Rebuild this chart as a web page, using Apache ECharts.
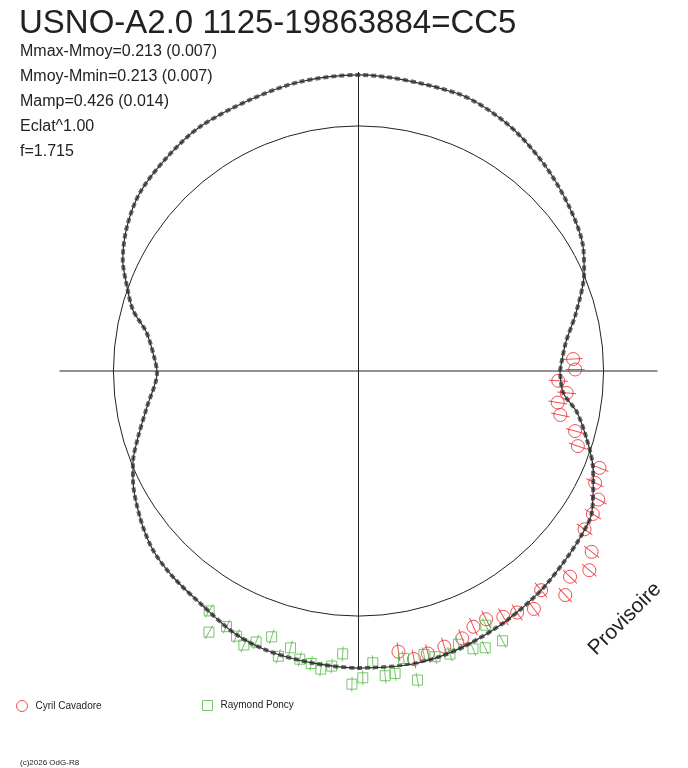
<!DOCTYPE html>
<html>
<head>
<meta charset="utf-8">
<script src="https://cdn.jsdelivr.net/npm/echarts@6/dist/echarts.min.js"></script>
<style>
  html, body { margin: 0; padding: 0; background: #fff; }
  #main { width: 688px; height: 768px; }
</style>
</head>
<body>
<div id="main"></div>
<script>
// titre et resultats
const titleText = 'USNO-A2.0 1125-19863884=CC5'
const statLines = ['Mmax-Mmoy=0.213 (0.007)', 'Mmoy-Mmin=0.213 (0.007)', 'Mamp=0.426 (0.014)', 'Eclat^1.00', 'f=1.715']

// courbe ajustee : angle (degres) et rayon (1 = cercle moyen)
const curveAngle = [0, 7.7, 14.9, 23.5, 28.9, 37.9, 48.4, 59.3, 70.7, 90, 101.4, 111.8, 123, 131.8, 140.8, 148.1, 154.8, 160, 164.9, 169.8, 176.9, 180.5, 189.7, 196.7, 202.2, 205.8, 213.8, 221, 228, 235.7, 244.7, 252, 261, 270, 279.4, 285.9, 292.8, 300.8, 309.5, 316.8, 323.2, 328.7, 335.1, 337.7, 343.2, 349.4, 353.9, 360]
const curveRadius = [0.822, 0.853, 0.918, 1.004, 1.047, 1.090, 1.135, 1.178, 1.202, 1.208, 1.204, 1.192, 1.188, 1.171, 1.151, 1.113, 1.063, 1.005, 0.953, 0.878, 0.832, 0.822, 0.876, 0.939, 0.994, 1.022, 1.073, 1.112, 1.131, 1.147, 1.184, 1.200, 1.206, 1.212, 1.216, 1.212, 1.200, 1.184, 1.165, 1.145, 1.131, 1.114, 1.056, 1.034, 0.974, 0.906, 0.840, 0.822]

// mesures Cyril Cavadore
const cavadoreAngle = [3.2, 0.4, 357.2, 354.0, 351.0, 347.7, 344.5, 341.1, 338.1, 334.7, 331.8, 328.6, 325.0, 322.2, 319.2, 315.8, 312.7, 309.8, 306.4, 303.3, 300.5, 297.2, 294.2, 291.2, 287.3, 283.8, 280.9, 278.1]
const cavadoreRadius = [0.877, 0.884, 0.816, 0.854, 0.823, 0.843, 0.917, 0.946, 1.060, 1.068, 1.110, 1.120, 1.126, 1.204, 1.244, 1.204, 1.244, 1.164, 1.206, 1.179, 1.164, 1.139, 1.144, 1.170, 1.178, 1.187, 1.197, 1.157]

// mesures Raymond Poncy
const poncyAngle = [238.1, 240.2, 242.7, 245.3, 247.3, 249.3, 251.9, 254.3, 256.2, 258.5, 260.8, 262.8, 264.8, 266.8, 268.8, 270.8, 272.8, 275.0, 276.9, 278.9, 280.8, 283.0, 285.0, 287.9, 290.1, 292.4, 294.6, 296.6, 298.1]
const poncyRadius = [1.153, 1.228, 1.174, 1.191, 1.212, 1.182, 1.141, 1.209, 1.163, 1.200, 1.209, 1.226, 1.209, 1.156, 1.278, 1.252, 1.192, 1.248, 1.243, 1.187, 1.284, 1.187, 1.207, 1.214, 1.187, 1.226, 1.242, 1.160, 1.248]

const redColor = '#e8262b'
const greenColor = '#56b947'
const inkColor = '#222'
const fontName = 'Liberation Sans'

function pairs(radius, angle) {
    return radius.map((r, i) => [r, angle[i]])
}
// petit trait radial (barre d'erreur) tourne selon l'angle
function errBars(radius, angle) {
    return radius.map((r, i) => ({ value: [r, angle[i]], symbolRotate: angle[i] }))
}

const curveData = pairs(curveRadius, curveAngle)

const myChart = echarts.init(document.getElementById('main'))

const option = {
    animation: false,
    backgroundColor: '#fff',
    title: [{
        text: titleText,
        left: 19,
        top: 7,
        padding: 0,
        textStyle: { fontSize: 33, fontWeight: 'normal', color: inkColor, fontFamily: fontName }
    }, {
        text: statLines.join('\n'),
        left: 20,
        top: 39,
        padding: 0,
        textStyle: { fontSize: 16, fontWeight: 'normal', color: inkColor, fontFamily: fontName, lineHeight: 25 }
    }],
    legend: [{
        left: 16,
        top: 700,
        padding: 0,
        itemWidth: 11,
        itemHeight: 11,
        itemGap: 0,
        selectedMode: false,
        textStyle: { fontSize: 10, color: inkColor, fontFamily: fontName, padding: [0, 0, 0, 3] },
        data: [{ name: 'Cyril Cavadore', icon: 'circle', itemStyle: { color: 'rgba(0,0,0,0)', borderColor: redColor, borderWidth: 1 } }]
    }, {
        left: 202,
        top: 700,
        padding: 0,
        itemWidth: 10,
        itemHeight: 10,
        selectedMode: false,
        textStyle: { fontSize: 10, color: inkColor, fontFamily: fontName, padding: [0, 0, 0, 3] },
        data: [{ name: 'Raymond Poncy', icon: 'rect', itemStyle: { color: 'rgba(0,0,0,0)', borderColor: greenColor, borderWidth: 1 } }]
    }],
    polar: {
        center: [358.5, 371],
        radius: 299
    },
    angleAxis: {
        type: 'value',
        min: 0,
        max: 360,
        interval: 90,
        startAngle: 0,
        clockwise: false,
        axisLine: { show: false },
        axisTick: { show: false },
        axisLabel: { show: false },
        splitLine: { show: true, lineStyle: { color: inkColor, width: 1 } }
    },
    radiusAxis: {
        type: 'value',
        min: 0,
        max: 1.22,
        interval: 1,
        axisLine: { show: false },
        axisTick: { show: false },
        axisLabel: { show: false },
        // seul le cercle 1 est trace
        splitLine: { show: true, lineStyle: { color: ['rgba(0,0,0,0)', inkColor, 'rgba(0,0,0,0)'], width: 1 } }
    },
    graphic: [{
        type: 'text',
        x: 625,
        y: 619,
        rotation: Math.PI / 4,
        style: { text: 'Provisoire', font: '21px "Liberation Sans"', fill: inkColor, textAlign: 'center', textVerticalAlign: 'middle' }
    }, {
        type: 'text',
        x: 20,
        y: 763,
        style: { text: '(c)2026 OdG-R8', font: '8px "Liberation Sans"', fill: inkColor, textAlign: 'left', textVerticalAlign: 'middle' }
    }],
    series: [{
        type: 'line',
        coordinateSystem: 'polar',
        data: curveData,
        smooth: 0.3,
        symbol: 'none',
        silent: true,
        lineStyle: { color: '#2b2b2b', width: 4, type: [5, 3], opacity: 0.7 }
    }, {
        type: 'line',
        coordinateSystem: 'polar',
        data: curveData,
        smooth: 0.3,
        symbol: 'none',
        silent: true,
        lineStyle: { color: '#2b2b2b', width: 1.2 }
    }, {
        name: 'Cyril Cavadore',
        type: 'scatter',
        coordinateSystem: 'polar',
        clip: false,
        symbol: 'circle',
        symbolSize: 13,
        itemStyle: { color: 'rgba(0,0,0,0)', borderColor: redColor, borderWidth: 1 },
        data: pairs(cavadoreRadius, cavadoreAngle)
    }, {
        name: 'cavadore-err',
        type: 'scatter',
        coordinateSystem: 'polar',
        clip: false,
        symbol: 'rect',
        symbolSize: [19, 1],
        itemStyle: { color: redColor },
        data: errBars(cavadoreRadius, cavadoreAngle)
    }, {
        name: 'Raymond Poncy',
        type: 'scatter',
        coordinateSystem: 'polar',
        clip: false,
        symbol: 'rect',
        symbolSize: 10,
        itemStyle: { color: 'rgba(0,0,0,0)', borderColor: greenColor, borderWidth: 1 },
        data: pairs(poncyRadius, poncyAngle)
    }, {
        name: 'poncy-err',
        type: 'scatter',
        coordinateSystem: 'polar',
        clip: false,
        symbol: 'rect',
        symbolSize: [15, 1],
        itemStyle: { color: greenColor },
        data: errBars(poncyRadius, poncyAngle)
    }]
}

myChart.setOption(option)
</script>
</body>
</html>
